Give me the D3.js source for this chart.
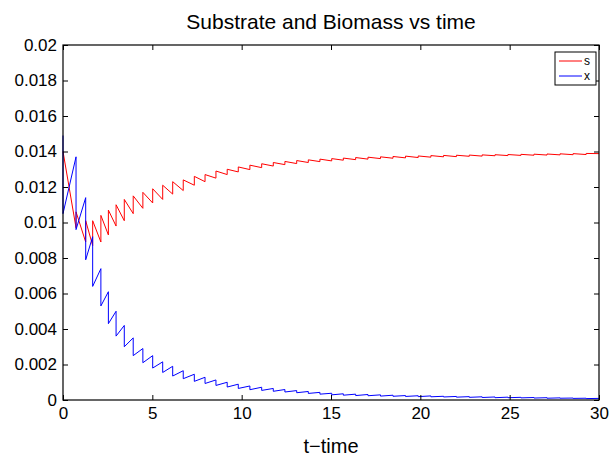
<!DOCTYPE html>
<html lang="en">
<head>
  <meta charset="UTF-8">
  <title>Substrate and Biomass vs time</title>
  <script src="https://d3js.org/d3.v7.min.js"></script>
  <style>
    body { margin: 0; background: #fff; }
    text { font-family: "Liberation Sans", Arial, Helvetica, sans-serif; fill: #000; }
  </style>
</head>
<body>
  <svg width="611" height="457"></svg>
<script>
// pulse times and values just before / after each pulse
var pulseT = [0.73, 1.27, 1.66, 2.12, 2.54, 2.97, 3.43, 3.93, 4.47, 5.02,
  5.58, 6.14, 6.73, 7.35, 7.95, 8.56, 9.19, 9.81, 10.46, 11.12,
  11.77, 12.42, 13.08, 13.73, 14.38, 15.04, 15.69, 16.38, 17.07, 17.77,
  18.47, 19.17, 19.88, 20.59, 21.30, 22.02, 22.74, 23.46, 24.18, 24.90,
  25.63, 26.36, 27.09, 27.82, 28.55, 29.28];

// substrate s
var sStart = 0.0140, sEnd = 0.01388;
var sBefore = [0.0097, 0.0089, 0.0087, 0.0089, 0.0093, 0.0098, 0.0101, 0.0105, 0.0108, 0.0111,
  0.0113, 0.0116, 0.0118, 0.0121, 0.0123, 0.0125, 0.0127, 0.01285, 0.01298, 0.01309,
  0.01318, 0.01326, 0.01332, 0.01338, 0.01343, 0.01347, 0.01351, 0.01354, 0.01357, 0.0136,
  0.01362, 0.01364, 0.01366, 0.01368, 0.0137, 0.01371, 0.01373, 0.01374, 0.01376, 0.01377,
  0.01378, 0.01379, 0.0138, 0.01381, 0.01382, 0.01383];
var sAfter = [0.0106, 0.0101, 0.0101, 0.0104, 0.0107, 0.0110, 0.0113, 0.0115, 0.0117, 0.0119,
  0.0121, 0.0123, 0.0124, 0.0126, 0.0127, 0.0129, 0.0130, 0.01313, 0.01323, 0.01331,
  0.01338, 0.01344, 0.01349, 0.01353, 0.01357, 0.0136, 0.01363, 0.01366, 0.01368, 0.0137,
  0.01372, 0.01374, 0.01375, 0.01377, 0.01378, 0.01379, 0.0138, 0.01381, 0.01382, 0.01383,
  0.01384, 0.01385, 0.01386, 0.01387, 0.01388, 0.01389];

// biomass x (first pulse happens at t=0)
var xStart = [0.0149, 0.0105], xEnd = 0.00009;
var xBefore = [0.0137, 0.0114, 0.0092, 0.0074, 0.0061, 0.0050, 0.0042, 0.0035, 0.0029, 0.0025,
  0.00215, 0.0019, 0.00165, 0.00145, 0.00128, 0.00113, 0.0010, 0.00089, 0.00079, 0.00072,
  0.00065, 0.00059, 0.00053, 0.00048, 0.00043, 0.00038, 0.00035, 0.00033, 0.00031, 0.00029,
  0.00027, 0.00025, 0.00024, 0.00023, 0.00021, 0.0002, 0.00019, 0.00018, 0.00017, 0.00016,
  0.00015, 0.00014, 0.00013, 0.00012, 0.00011, 0.0001];
var xAfter = [0.0096, 0.0079, 0.0064, 0.0053, 0.0043, 0.0036, 0.0030, 0.0025, 0.0021, 0.0018,
  0.00155, 0.00135, 0.0012, 0.00105, 0.00093, 0.00082, 0.00073, 0.00065, 0.00058, 0.00054,
  0.00049, 0.00045, 0.00041, 0.00037, 0.00033, 0.00029, 0.00027, 0.00025, 0.00024, 0.00022,
  0.00021, 0.0002, 0.00019, 0.00018, 0.00017, 0.00016, 0.00015, 0.00014, 0.00013, 0.00013,
  0.00012, 0.00011, 0.0001, 0.0001, 0.00009, 0.00008];

var xTicks = [0, 5, 10, 15, 20, 25, 30];
var yTicks = [0, 0.002, 0.004, 0.006, 0.008, 0.01, 0.012, 0.014, 0.016, 0.018, 0.02];
var yTickLabels = ["0", "0.002", "0.004", "0.006", "0.008", "0.01", "0.012", "0.014", "0.016", "0.018", "0.02"];
var seriesNames = ["s", "x"];
var seriesColors = ["#ff0000", "#0000ff"];

var svg = d3.select("svg");
var plotL = 63, plotT = 45, plotR = 599, plotB = 400;

var xScale = d3.scaleLinear().domain([0, 30]).range([plotL, plotR]);
var yScale = d3.scaleLinear().domain([0, 0.02]).range([plotB, plotT]);

// build the sawtooth point lists
var sPts = [[0, sStart]];
pulseT.forEach(function(t, i) { sPts.push([t, sBefore[i]]); sPts.push([t, sAfter[i]]); });
sPts.push([30, sEnd]);

var xPts = [[0, xStart[0]], [0, xStart[1]]];
pulseT.forEach(function(t, i) { xPts.push([t, xBefore[i]]); xPts.push([t, xAfter[i]]); });
xPts.push([30, xEnd]);

var line = d3.line().x(function(d) { return xScale(d[0]); }).y(function(d) { return yScale(d[1]); });

svg.append("rect").attr("x", 0).attr("y", 0).attr("width", 611).attr("height", 457).attr("fill", "#fff");

var plot = svg.append("g");
plot.append("path").datum(sPts).attr("d", line)
  .attr("fill", "none").attr("stroke", seriesColors[0]).attr("stroke-width", 1);
plot.append("path").datum(xPts).attr("d", line)
  .attr("fill", "none").attr("stroke", seriesColors[1]).attr("stroke-width", 1);

// axes, ticks pointing inward on all four sides
function styleAxis(g) {
  g.select(".domain").remove();
  g.selectAll(".tick line").attr("stroke", "#000");
  g.selectAll("text").style("font-size", "17px").attr("fill", "#000");
}
svg.append("g").attr("transform", "translate(0," + plotB + ")")
  .call(d3.axisBottom(xScale).tickValues(xTicks).tickSizeInner(-5).tickSizeOuter(0).tickPadding(7))
  .call(styleAxis);
svg.append("g").attr("transform", "translate(0," + plotT + ")")
  .call(d3.axisTop(xScale).tickValues(xTicks).tickSizeInner(-5).tickSizeOuter(0).tickFormat(""))
  .call(styleAxis);
svg.append("g").attr("transform", "translate(" + plotL + ",0)")
  .call(d3.axisLeft(yScale).tickValues(yTicks).tickSizeInner(-5).tickSizeOuter(0).tickPadding(6)
    .tickFormat(function(d, i) { return yTickLabels[i]; }))
  .call(styleAxis);
svg.append("g").attr("transform", "translate(" + plotR + ",0)")
  .call(d3.axisRight(yScale).tickValues(yTicks).tickSizeInner(-5).tickSizeOuter(0).tickFormat(""))
  .call(styleAxis);

svg.append("rect").attr("x", plotL).attr("y", plotT).attr("width", plotR - plotL).attr("height", plotB - plotT)
  .attr("fill", "none").attr("stroke", "#000").attr("stroke-width", 1.2);

svg.append("text").attr("x", (plotL + plotR) / 2).attr("y", 29).attr("text-anchor", "middle")
  .style("font-size", "21px").text("Substrate and Biomass vs time");
svg.append("text").attr("x", (plotL + plotR) / 2).attr("y", 453).attr("text-anchor", "middle")
  .style("font-size", "20px").text("t\u2212time");

// legend
var lg = svg.append("g");
lg.append("rect").attr("x", 555).attr("y", 52).attr("width", 41).attr("height", 33)
  .attr("fill", "#fff").attr("stroke", "#000").attr("stroke-width", 1);
seriesNames.forEach(function(n, i) {
  var yy = 61 + i * 15;
  lg.append("line").attr("x1", 559).attr("x2", 582).attr("y1", yy).attr("y2", yy)
    .attr("stroke", seriesColors[i]).attr("stroke-width", 1);
  lg.append("text").attr("x", 584).attr("y", yy + 4).style("font-size", "12px").text(n);
});
</script>
</body>
</html>
